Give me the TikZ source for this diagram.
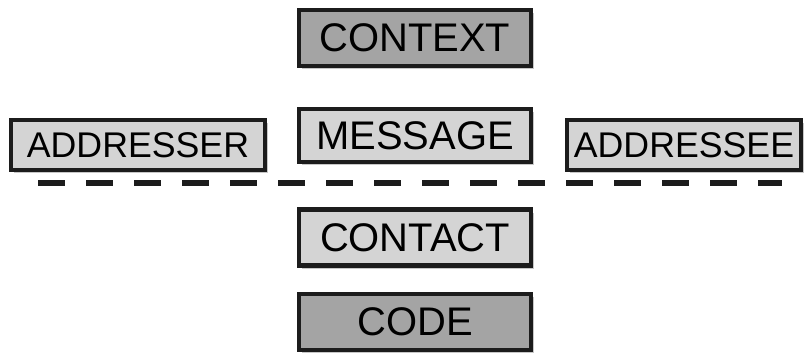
\documentclass[tikz,border=0pt]{standalone}
\usepackage{fontspec}
\setmainfont{Liberation Sans}
\usetikzlibrary{positioning, shadows}
\definecolor{FrameBlack}{RGB}{28,28,28}
\definecolor{PartLight}{RGB}{212,212,212}
\definecolor{PartDark}{RGB}{164,164,164}

\begin{document}
\begin{tikzpicture}
        \tikzstyle{part} = [rectangle, draw=FrameBlack, line width=3pt, fill=PartLight,
          minimum width=5.8cm, minimum height=1.4cm, inner sep=0pt,
          font=\fontsize{28.4}{30}\selectfont,
          drop shadow={shadow xshift=0.08cm, shadow yshift=-0.08cm, fill=black, opacity=0.22}]
        \tikzstyle{outer} = [part, fill=PartDark]
        \tikzstyle{party} = [part, minimum height=1.25cm, font=\fontsize{25.4}{27}\selectfont]

        \useasboundingbox (0,0) rectangle (20.225,-8.85);

        % middle column
        \node[outer] (context) at (10.375,-0.95) {CONTEXT};
        \node[part, minimum height=1.33cm] (message) at (10.375,-3.39) {MESSAGE};
        \node[part] (contact) at (10.375,-5.94) {CONTACT};
        \node[outer] (code) at (10.375,-8.05) {CODE};

        % sender and receiver
        \node[party, minimum width=6.35cm] (addresser) at (3.45,-3.625) {ADDRESSER};
        \node[party, minimum width=5.85cm] (addressee) at (17.1,-3.625) {ADDRESSEE};

        % dividing line
        \coordinate (cutL) at (0.95,-4.575);
        \coordinate (cutR) at (19.55,-4.575);
        \draw[FrameBlack, line width=4.2pt, dash pattern=on 0.675cm off 0.525cm] (cutL) -- (cutR);
      \end{tikzpicture}
\end{document}
